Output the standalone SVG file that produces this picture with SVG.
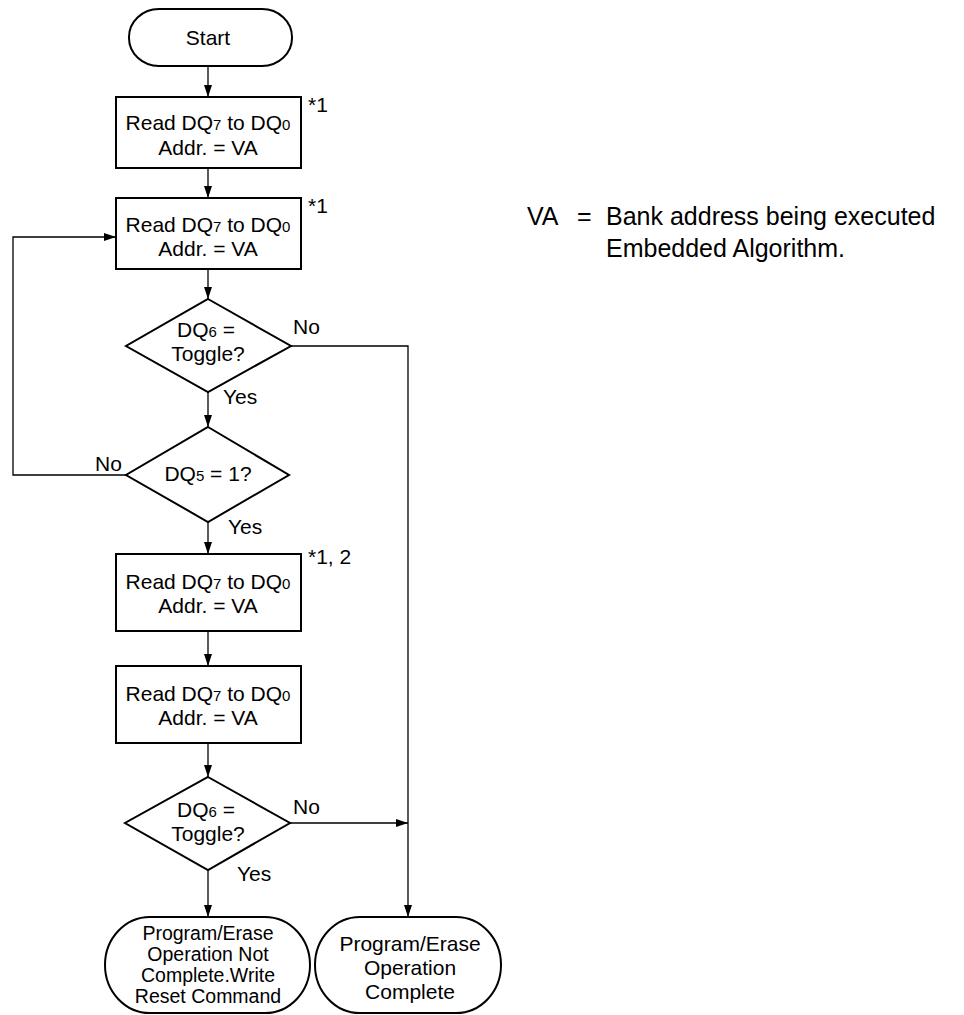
<svg xmlns="http://www.w3.org/2000/svg" width="964" height="1015" viewBox="0 0 964 1015">
<style>
text{font-family:"Liberation Sans",Arial,sans-serif;font-size:21px;fill:#000}
.c{text-anchor:middle}
.s{font-size:15px}
.t{font-size:19.5px}
.lg{font-size:25px}
.shape{fill:#fff;stroke:#000;stroke-width:2}
.conn{fill:none;stroke:#000;stroke-width:1.3}
</style>
<defs>
<marker id="ah" viewBox="0 0 12 8" refX="12" refY="4" markerWidth="12" markerHeight="8" markerUnits="userSpaceOnUse" orient="auto">
<path d="M0,0 L12,4 L0,8 Z" fill="#000"/>
</marker>
</defs>
<g id="connectors">
<path class="conn" d="M208,66 V97" marker-end="url(#ah)"/>
<path class="conn" d="M208,168 V198" marker-end="url(#ah)"/>
<path class="conn" d="M208,269 V299" marker-end="url(#ah)"/>
<path class="conn" d="M208,392 V427" marker-end="url(#ah)"/>
<path class="conn" d="M291,346 H408 V917" marker-end="url(#ah)"/>
<path class="conn" d="M126,475 H13 V237 H116" marker-end="url(#ah)"/>
<path class="conn" d="M208,522 V554" marker-end="url(#ah)"/>
<path class="conn" d="M208,631 V666" marker-end="url(#ah)"/>
<path class="conn" d="M208,743 V777" marker-end="url(#ah)"/>
<path class="conn" d="M290,823 H408" marker-end="url(#ah)"/>
<path class="conn" d="M208,870 V917" marker-end="url(#ah)"/>
<text x="293" y="334">No</text>
<text x="223" y="404">Yes</text>
<text x="95" y="471">No</text>
<text x="228" y="534">Yes</text>
<text x="293" y="814">No</text>
<text x="237" y="881">Yes</text>
</g>
<g id="start">
<rect class="shape" x="129" y="9" width="163" height="57" rx="30" ry="28"/>
<text class="c" x="208" y="45">Start</text>
</g>
<g id="read1">
<rect class="shape" x="116" y="97" width="185" height="71"/>
<text class="c" x="208" y="130">Read DQ<tspan class="s">7</tspan> to DQ<tspan class="s">0</tspan></text>
<text class="c" x="208" y="155">Addr. = VA</text>
<text x="308" y="112">*1</text>
</g>
<g id="read2">
<rect class="shape" x="116" y="198" width="185" height="71"/>
<text class="c" x="208" y="232">Read DQ<tspan class="s">7</tspan> to DQ<tspan class="s">0</tspan></text>
<text class="c" x="208" y="256">Addr. = VA</text>
<text x="308" y="213">*1</text>
</g>
<g id="dq6a">
<polygon class="shape" points="208,299 291,346 208,392 126,346"/>
<text class="c" x="206" y="337">DQ<tspan class="s">6</tspan> =</text>
<text class="c" x="208" y="361">Toggle?</text>
</g>
<g id="dq5">
<polygon class="shape" points="208,427 289,475 208,522 126,475"/>
<text class="c" x="208" y="481">DQ<tspan class="s">5</tspan> = 1?</text>
</g>
<g id="read3">
<rect class="shape" x="116" y="554" width="185" height="77"/>
<text class="c" x="208" y="589">Read DQ<tspan class="s">7</tspan> to DQ<tspan class="s">0</tspan></text>
<text class="c" x="208" y="613">Addr. = VA</text>
<text x="308" y="564">*1, 2</text>
</g>
<g id="read4">
<rect class="shape" x="116" y="666" width="185" height="77"/>
<text class="c" x="208" y="701">Read DQ<tspan class="s">7</tspan> to DQ<tspan class="s">0</tspan></text>
<text class="c" x="208" y="725">Addr. = VA</text>
</g>
<g id="dq6b">
<polygon class="shape" points="208,777 290,823 208,870 125,823"/>
<text class="c" x="206" y="817">DQ<tspan class="s">6</tspan> =</text>
<text class="c" x="208" y="841">Toggle?</text>
</g>
<g id="notcomplete">
<rect class="shape" x="105" y="917" width="205" height="96" rx="45" ry="48"/>
<text class="c t" x="208" y="940">Program/Erase</text>
<text class="c t" x="208" y="961">Operation Not</text>
<text class="c t" x="208" y="982">Complete.Write</text>
<text class="c t" x="208" y="1003">Reset Command</text>
</g>
<g id="complete">
<rect class="shape" x="315" y="917" width="186" height="96" rx="45" ry="48"/>
<text class="c" x="410" y="951">Program/Erase</text>
<text class="c" x="410" y="975">Operation</text>
<text class="c" x="410" y="999">Complete</text>
</g>
<g id="legend">
<text class="lg" x="527" y="225">VA</text>
<text class="lg" x="577" y="225">=</text>
<text class="lg" x="606" y="225">Bank address being executed</text>
<text class="lg" x="606" y="257">Embedded Algorithm.</text>
</g>
</svg>
